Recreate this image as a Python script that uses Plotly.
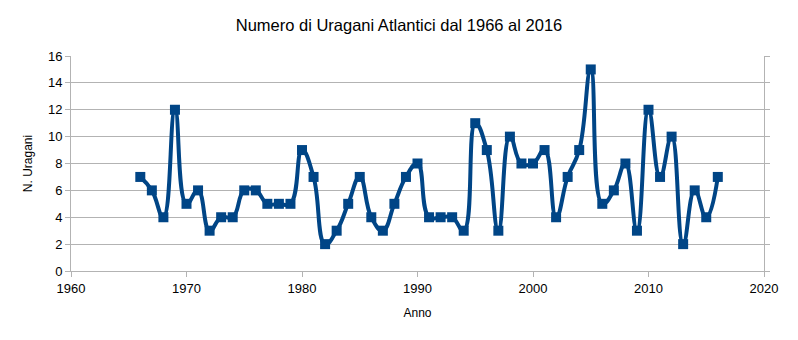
import plotly.graph_objects as go

years = list(range(1966, 2017))
hurricanes = [7, 6, 4, 12, 5, 6, 3, 4, 4, 6,
              6, 5, 5, 5, 9, 7, 2, 3, 5, 7,
              4, 3, 5, 7, 8, 4, 4, 4, 3, 11,
              9, 3, 10, 8, 8, 9, 4, 7, 9, 15,
              5, 6, 8, 3, 12, 7, 10, 2, 6, 4, 7]

title_text = "Numero di Uragani Atlantici dal 1966 al 2016"
x_title = "Anno"
y_title = "N. Uragani"

color = "#004586"
grid = "#b3b3b3"
font = "Liberation Sans"

fig = go.Figure()
fig.add_trace(go.Scatter(
    x=years, y=hurricanes, mode="lines+markers",
    line=dict(color=color, width=4, shape="spline", smoothing=1.3),
    marker=dict(symbol="square", size=10, color=color),
    showlegend=False,
))

fig.update_layout(
    width=798, height=340,
    margin=dict(l=71, r=34, t=56, b=69),
    paper_bgcolor="white", plot_bgcolor="white",
    font=dict(family=font, color="#000000", size=12),
    title=dict(text=title_text, x=0.5, xanchor="center", y=0.925, yanchor="middle",
               font=dict(family=font, size=16.5, color="#000000")),
    xaxis=dict(range=[1960, 2020], dtick=10, tick0=1960, showgrid=False,
               showline=True, linecolor=grid, linewidth=1,
               ticks="outside", ticklen=5, tickcolor=grid,
               tickfont=dict(size=13), zeroline=False,
               title=dict(text=x_title, font=dict(size=12), standoff=14)),
    yaxis=dict(range=[0, 16], dtick=2, showgrid=True, gridcolor=grid, gridwidth=1,
               showline=True, linecolor=grid, linewidth=1, mirror="ticks",
               ticks="outside", ticklen=5, tickcolor=grid,
               tickfont=dict(size=13), zeroline=False,
               title=dict(text=y_title, font=dict(size=12), standoff=12)),
)

fig.write_html("out.html")
